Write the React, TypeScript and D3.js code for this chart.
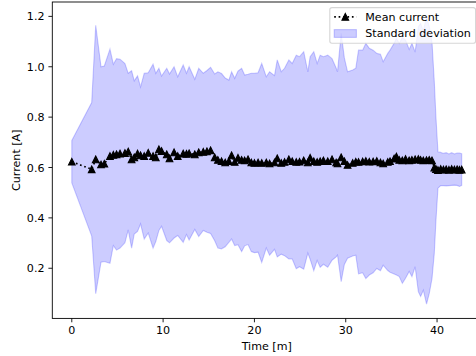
import React from "react";
import * as d3 from "d3";

// Time stamps [m]
const times: number[] = [
  0, 2.18, 2.62, 3.2, 3.56, 4.18, 4.55, 4.9, 5.28, 5.82, 6.18, 6.55, 6.84, 7.2, 7.53, 7.93,
  8.37, 8.9, 9.2, 9.54, 9.83, 10.4, 10.7, 11.2, 11.6, 12.2, 12.56, 12.85, 13.47, 13.9,
  14.4, 14.8, 15.2, 15.65, 16.0, 16.4, 16.8, 17.2, 17.5, 17.84, 18.2, 18.6, 18.93, 19.3,
  19.66, 20.0, 20.4, 20.8, 21.3, 21.66, 22.2, 22.5, 22.94, 23.3, 23.77, 24.14, 24.58,
  24.94, 25.4, 25.85, 26.1, 26.5, 26.87, 27.2, 27.56, 28.03, 28.5, 28.95, 29.1, 29.5,
  29.85, 30.2, 30.76, 31.1, 31.4, 31.85, 32.2, 32.58, 33.0, 33.4, 33.8, 34.1, 34.6, 34.85,
  35.3, 35.55, 35.86, 36.2, 36.55, 36.95, 37.25, 37.6, 37.95, 38.2, 38.5, 38.85, 39.15,
  39.45, 39.7, 39.88, 40.1, 40.4, 40.7, 41.0, 41.3, 41.6, 41.9, 42.2, 42.45, 42.7,
];

// Mean current [A]
const meanCurrent: number[] = [
  0.623, 0.593, 0.632, 0.612, 0.615, 0.645, 0.65, 0.652, 0.655, 0.657, 0.663, 0.632, 0.64,
  0.655, 0.648, 0.645, 0.658, 0.645, 0.64, 0.672, 0.665, 0.652, 0.636, 0.66, 0.645, 0.655,
  0.654, 0.656, 0.652, 0.66, 0.662, 0.664, 0.668, 0.64, 0.63, 0.625, 0.62, 0.625, 0.648,
  0.622, 0.638, 0.63, 0.628, 0.632, 0.62, 0.618, 0.62, 0.618, 0.62, 0.616, 0.62, 0.636,
  0.618, 0.622, 0.632, 0.625, 0.622, 0.623, 0.628, 0.62, 0.638, 0.625, 0.622, 0.625, 0.628,
  0.625, 0.632, 0.62, 0.616, 0.64, 0.625, 0.61, 0.618, 0.623, 0.622, 0.624, 0.626, 0.623,
  0.624, 0.626, 0.62, 0.616, 0.622, 0.625, 0.635, 0.643, 0.63, 0.628, 0.633, 0.628, 0.63,
  0.632, 0.633, 0.63, 0.628, 0.629, 0.63, 0.628, 0.6, 0.594, 0.59, 0.594, 0.592, 0.593,
  0.591, 0.594, 0.592, 0.593, 0.591, 0.592,
];

// Standard deviation [A]
const stdCurrent: number[] = [
  0.084, 0.265, 0.533, 0.388, 0.388, 0.425, 0.36, 0.38, 0.375, 0.356, 0.311, 0.352, 0.304,
  0.309, 0.272, 0.329, 0.318, 0.365, 0.334, 0.322, 0.298, 0.342, 0.335, 0.34, 0.315, 0.352,
  0.32, 0.344, 0.298, 0.334, 0.312, 0.321, 0.33, 0.331, 0.35, 0.348, 0.335, 0.322, 0.332,
  0.332, 0.345, 0.364, 0.339, 0.338, 0.354, 0.356, 0.356, 0.395, 0.34, 0.364, 0.345, 0.391,
  0.362, 0.372, 0.395, 0.388, 0.424, 0.417, 0.432, 0.36, 0.402, 0.435, 0.391, 0.421, 0.412,
  0.421, 0.4, 0.375, 0.364, 0.493, 0.41, 0.37, 0.369, 0.371, 0.444, 0.442, 0.467, 0.45,
  0.442, 0.427, 0.43, 0.404, 0.431, 0.441, 0.458, 0.47, 0.463, 0.488, 0.473, 0.441, 0.463,
  0.426, 0.526, 0.542, 0.515, 0.571, 0.53, 0.468, 0.34, 0.205, 0.072, 0.066, 0.064, 0.066,
  0.063, 0.065, 0.062, 0.064, 0.066, 0.063,
];

const xTicks: number[] = [0, 10, 20, 30, 40];
const yTicks: number[] = [0.2, 0.4, 0.6, 0.8, 1.0, 1.2];
const xLabel = "Time [m]";
const yLabel = "Current [A]";
const legendLabels: string[] = ["Mean current", "Standard deviation"];

const W = 476;
const H = 356;
const FS = 11.1;
const FONT = "'DejaVu Sans', sans-serif";

export default function App() {
  const plotL = 52.3;
  const plotR = 481.2;
  const plotT = 2.0;
  const plotB = 318.4;

  const pts = times.map((t, i) => ({
    t,
    m: meanCurrent[i],
    lo: meanCurrent[i] - stdCurrent[i],
    hi: meanCurrent[i] + stdCurrent[i],
  }));

  const [tMin, tMax] = d3.extent(times) as [number, number];
  const tPad = (tMax - tMin) * 0.05;
  const yLo = d3.min(pts, (p) => p.lo) as number;
  const yHi = d3.max(pts, (p) => p.hi) as number;
  const yPad = (yHi - yLo) * 0.05;

  const x = d3.scaleLinear().domain([tMin - tPad, tMax + tPad]).range([plotL, plotR]);
  const y = d3.scaleLinear().domain([yLo - yPad, yHi + yPad]).range([plotB, plotT]);

  const area = d3
    .area<(typeof pts)[number]>()
    .x((p) => x(p.t))
    .y0((p) => y(p.lo))
    .y1((p) => y(p.hi));
  const line = d3
    .line<(typeof pts)[number]>()
    .x((p) => x(p.t))
    .y((p) => y(p.m));

  const tri = (s: number) => `M0,${-s}L${-s},${s}L${s},${s}Z`;
  const ms = 3.33;

  const lgX = 329.8;
  const lgY = 7.6;
  const lgW = 145.8;
  const lgH = 35.7;
  const hx0 = lgX + 4.4;
  const hx1 = hx0 + 22.2;
  const tx = hx1 + 8.9;

  return (
    <svg
      width={W}
      height={H}
      style={{ position: "absolute", left: 0, top: 0, background: "#fff" }}
      fontFamily={FONT}
    >
      <defs>
        <clipPath id="plotclip">
          <rect x={plotL} y={plotT} width={plotR - plotL} height={plotB - plotT} />
        </clipPath>
      </defs>
      <rect x={0} y={0} width={W} height={H} fill="#fff" />
      <g clipPath="url(#plotclip)">
        <path
          d={area(pts) || ""}
          fill="blue"
          fillOpacity={0.2}
          stroke="blue"
          strokeOpacity={0.2}
          strokeWidth={1.11}
        />
        <path
          d={line(pts) || ""}
          fill="none"
          stroke="#000"
          strokeWidth={1.67}
          strokeDasharray="1.67 2.75"
        />
        {pts.map((p, i) => (
          <path
            key={i}
            d={tri(ms)}
            transform={`translate(${x(p.t)},${y(p.m)})`}
            fill="#000"
            stroke="#000"
            strokeWidth={1.11}
          />
        ))}
      </g>
      {/* spines */}
      <rect
        x={plotL}
        y={plotT}
        width={plotR - plotL}
        height={plotB - plotT}
        fill="none"
        stroke="#000"
        strokeWidth={0.89}
      />
      {/* x ticks */}
      {xTicks.map((t) => (
        <g key={`x${t}`}>
          <line x1={x(t)} x2={x(t)} y1={plotB} y2={plotB + 3.9} stroke="#000" strokeWidth={0.89} />
          <text x={x(t)} y={334.4} fontSize={FS} textAnchor="middle" fill="#000">
            {t}
          </text>
        </g>
      ))}
      {/* y ticks */}
      {yTicks.map((v) => (
        <g key={`y${v}`}>
          <line x1={plotL - 3.9} x2={plotL} y1={y(v)} y2={y(v)} stroke="#000" strokeWidth={0.89} />
          <text x={plotL - 7.8} y={y(v) + 4.05} fontSize={FS} textAnchor="end" fill="#000">
            {v.toFixed(1)}
          </text>
        </g>
      ))}
      <text x={(plotL + plotR) / 2} y={349.6} fontSize={FS} textAnchor="middle" fill="#000">
        {xLabel}
      </text>
      <text
        transform={`translate(20,${(plotT + plotB) / 2}) rotate(-90)`}
        fontSize={FS}
        textAnchor="middle"
        fill="#000"
      >
        {yLabel}
      </text>
      {/* legend */}
      <rect
        x={lgX}
        y={lgY}
        width={lgW}
        height={lgH}
        rx={2.2}
        fill="#fff"
        fillOpacity={0.8}
        stroke="#ccc"
        strokeOpacity={0.8}
        strokeWidth={1.11}
      />
      <line
        x1={hx0}
        x2={hx1}
        y1={16.9}
        y2={16.9}
        stroke="#000"
        strokeWidth={1.67}
        strokeDasharray="1.67 2.75"
      />
      <path
        d={tri(ms)}
        transform={`translate(${(hx0 + hx1) / 2},16.9)`}
        fill="#000"
        stroke="#000"
        strokeWidth={1.11}
      />
      <text x={tx} y={20.8} fontSize={FS} fill="#000">
        {legendLabels[0]}
      </text>
      <rect
        x={hx0}
        y={29.6}
        width={22.2}
        height={7.8}
        fill="blue"
        fillOpacity={0.2}
        stroke="blue"
        strokeOpacity={0.2}
        strokeWidth={1.11}
      />
      <text x={tx} y={37.4} fontSize={FS} fill="#000">
        {legendLabels[1]}
      </text>
    </svg>
  );
}
